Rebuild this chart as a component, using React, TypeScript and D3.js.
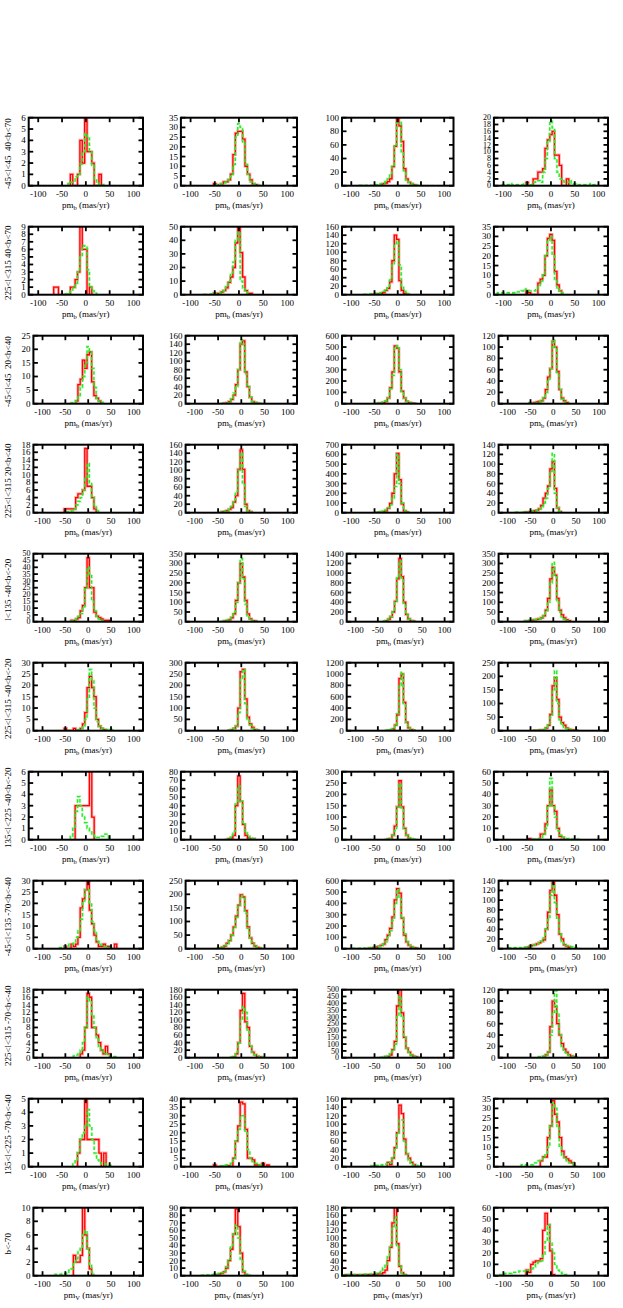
import React from "react";
import * as d3 from "d3";

// one row per sky region, four proper-motion panels per row
const rowLabels = [
  "-45<l<45  40<b<70",
  "225<l<315 40<b<70",
  "-45<l<45  20<b<40",
  "225<l<315 20<b<40",
  "l<135 -40<b<-20",
  "225<l<315 -40<b<-20",
  "135<l<225 -40<b<-20",
  "-45<l<135 -70<b<-40",
  "225<l<315 -70<b<-40",
  "135<l<225 -70<b<-40",
  "b<-70",
];
const xSub = ["b", "b", "b", "b", "b", "b", "b", "b", "b", "b", "V"];
const xTicks = [-100, -50, 0, 50, 100];

const yMax = [
  [6, 35, 100, 20],
  [9, 50, 160, 35],
  [25, 160, 600, 120],
  [18, 160, 700, 140],
  [50, 350, 1400, 350],
  [30, 300, 1200, 250],
  [6, 80, 300, 60],
  [30, 250, 600, 140],
  [18, 180, 500, 120],
  [5, 40, 160, 35],
  [10, 90, 180, 60],
];
const yStep = [
  [1, 5, 20, 2],
  [1, 10, 20, 5],
  [5, 20, 100, 20],
  [2, 20, 100, 20],
  [5, 50, 200, 50],
  [5, 50, 200, 50],
  [1, 10, 50, 10],
  [5, 50, 100, 20],
  [2, 20, 50, 20],
  [1, 5, 20, 5],
  [2, 10, 20, 10],
];

// [first bin centre, counts in 5 mas/yr bins]
type Hist = [number, number[]];

const redHist: Hist[][] = [
  [
    [-30, [1, 0, 0, 1, 4, 2, 6, 3, 3, 2, 0, 0, 1]],
    [-50, [1, 0.5, 0, 1, 2, 2, 3, 6, 16, 27, 28, 28, 24, 10, 6, 3, 1, 0.5]],
    [-35, [1, 3, 4, 6, 10, 28, 58, 105, 88, 65, 25, 10, 5, 3, 1]],
    [-50, [1, 0, 0, 2, 2, 4, 4, 5, 11, 13.5, 15, 16, 9, 9, 6, 0, 0, 2]],
  ],
  [
    [-65, [1, 1, 0, 0, 0, 0, 0, 1, 1, 2, 3, 9.5, 6, 6, 0, 1]],
    [-50, [1, 1, 1, 2, 3, 5, 9, 13, 20, 38, 50, 31, 13, 3, 1, 1]],
    [-50, [1, 1, 2, 3, 5, 10, 15, 30, 80, 140, 130, 33, 10, 3, 1]],
    [-50, [2, 1, 0, 0, 0, 6, 8, 10, 20, 29, 31, 28, 12, 5, 2]],
  ],
  [
    [-25, [1, 7, 9, 16, 13, 18, 19, 8, 3, 2, 1]],
    [-35, [1, 2, 5, 10, 20, 45, 80, 140, 148, 75, 40, 15, 5, 2, 1]],
    [-40, [3, 5, 10, 20, 50, 140, 280, 510, 490, 280, 110, 50, 20, 10, 5, 2]],
    [-50, [1, 0, 2, 3, 4, 5, 10, 25, 47, 62, 110, 100, 57, 25, 10, 5, 2]],
  ],
  [
    [-50, [1, 1, 1, 1, 1, 4, 5, 5, 6, 17, 7, 7, 4, 1]],
    [-40, [2, 3, 5, 8, 12, 25, 40, 102, 148, 102, 20, 5, 2]],
    [-40, [3, 6, 10, 20, 45, 95, 200, 400, 610, 340, 90, 20, 5]],
    [-60, [1, 1, 2, 3, 4, 5, 8, 15, 30, 40, 55, 90, 105, 50, 10, 2]],
  ],
  [
    [-35, [1, 1, 2, 3, 8, 12, 25, 47, 25, 25, 7, 4, 3, 2, 1, 1, 1]],
    [-35, [3, 5, 10, 20, 40, 110, 200, 300, 230, 110, 40, 15, 5, 3]],
    [-30, [20, 50, 100, 200, 420, 880, 1300, 930, 400, 150, 60, 20, 10]],
    [-60, [2, 3, 5, 8, 10, 12, 15, 20, 30, 60, 120, 220, 280, 240, 120, 60, 35, 20, 10, 5]],
  ],
  [
    [-50, [1, 0, 0, 0, 1, 0, 0, 1, 3, 8, 19, 24, 19, 15, 5, 2, 1, 0.5]],
    [-25, [1, 3, 10, 20, 100, 260, 270, 140, 60, 30, 15, 5, 2]],
    [-25, [3, 10, 30, 100, 280, 920, 1000, 500, 150, 50, 20, 5]],
    [-40, [1, 0, 2, 0, 3, 10, 20, 60, 165, 195, 115, 50, 30, 20, 10, 5, 3, 2, 1]],
  ],
  [
    [-20, [3, 3, 3, 3, 3, 3, 7, 2]],
    [-20, [1, 2, 5, 40, 75, 45, 18, 5, 2, 1, 1]],
    [-20, [2, 5, 20, 60, 145, 260, 145, 50, 20, 5]],
    [-45, [1, 0, 0, 0, 0, 5, 5, 14, 30, 44, 30, 25, 10, 3, 2]],
  ],
  [
    [-50, [1, 0, 0, 2, 1, 2, 5, 18, 22, 26, 31, 17, 11, 6, 3, 1, 1, 2, 1, 1, 0, 0, 2]],
    [-45, [2, 5, 10, 20, 30, 50, 80, 120, 160, 198, 190, 140, 80, 40, 20, 10, 5, 2]],
    [-60, [3, 5, 10, 15, 20, 30, 40, 80, 120, 180, 280, 430, 530, 490, 270, 120, 60, 30, 15, 8, 4]],
    [-60, [2, 3, 5, 7, 8, 10, 12, 15, 18, 40, 75, 120, 136, 110, 70, 30, 20, 8, 5, 3]],
  ],
  [
    [-15, [1, 2, 8, 17, 16, 8, 8, 6, 4, 2, 1, 3, 1]],
    [-15, [2, 10, 40, 125, 170, 95, 80, 30, 15, 8, 3, 2]],
    [-25, [5, 10, 20, 60, 120, 380, 520, 330, 150, 70, 40, 20, 10, 5]],
    [-20, [2, 5, 10, 55, 100, 90, 60, 40, 25, 15, 10, 5, 3, 2]],
  ],
  [
    [-15, [1, 2, 2, 5.5, 2, 2, 2, 2, 2, 1, 0, 1]],
    [-50, [1, 0, 0, 0, 0, 0, 0.5, 0, 5, 15, 24, 38, 37, 22, 5, 5, 4, 1, 1, 0, 2, 0, 1]],
    [-20, [10, 5, 20, 45, 80, 145, 125, 65, 30, 20, 10, 5]],
    [-20, [3, 5, 5, 15, 21, 34, 27, 23, 15, 8, 5, 4, 3, 2]],
  ],
  [
    [-30, [3, 2, 2, 3, 10.5, 6, 4, 1]],
    [-45, [1, 2, 3, 5, 10, 20, 35, 55, 88, 65, 30, 5, 1]],
    [-110, [2, 2, 2, 2, 2, 2, 2, 2, 2, 2, 3, 3, 3, 4, 5, 5, 8, 15, 40, 75, 140, 185, 85, 25, 8, 2]],
    [-50, [5, 3, 10, 12, 13, 13, 15, 40, 55, 45, 22, 1]],
  ],
];

const greenHist: Hist[][] = [
  [
    [-35, [0.2, 0.3, 0.3, 0.8, 1, 1.9, 3, 4.6, 4.2, 3, 1.8, 0.6, 0.2, 0.1, 0.1]],
    [-45, [0.5, 0.5, 1, 1.5, 2, 3, 5, 11, 25, 32, 30, 22, 11, 6, 2, 1, 0.5, 0.3]],
    [-80, [0.5, 0.3, 0.3, 0.3, 0.5, 0.5, 1, 1.5, 2, 3, 4, 6, 10, 18, 30, 60, 92, 93, 50, 22, 8, 5, 3, 2, 1, 0.5]],
    [-100, [0.3, 0.3, 0.3, 0.6, 0.3, 0.3, 0.3, 0.3, 0.3, 0.6, 0.5, 0.5, 0.3, 1, 1.5, 1.5, 1, 4, 8, 13, 19, 17, 8, 4, 2, 1.5, 1, 1, 1.5, 0.8, 0.5, 0.3, 0.3, 0.3, 0.3, 0.3, 0.3, 0.6, 0.3]],
  ],
  [
    [-40, [0.1, 0.3, 0.5, 1, 1.5, 3, 5, 6.5, 6.3, 3.3, 1, 0.5, 0.2]],
    [-70, [0.2, 0.2, 0.3, 0.5, 1, 1, 1, 2, 3, 6, 10, 16, 24, 40, 46, 10, 5, 2, 1]],
    [-70, [1, 1, 1.5, 2, 2, 3, 4, 5, 8, 12, 20, 35, 70, 120, 125, 70, 20, 8, 2, 1]],
    [-110, [1, 1, 1, 1, 1, 1, 1, 1, 1.5, 1.5, 2, 3, 2.5, 2, 2, 2, 3, 4, 7, 10, 20, 28, 30, 20, 8, 3, 2, 1]],
  ],
  [
    [-35, [0.3, 0.5, 1, 3, 6, 10, 15, 21, 19, 13, 6, 2, 1, 0.5, 0.2]],
    [-40, [1, 1, 2, 5, 12, 25, 40, 80, 150, 140, 70, 40, 15, 5, 3, 2, 1]],
    [-45, [3, 5, 8, 15, 25, 50, 130, 250, 490, 510, 300, 110, 50, 20, 10, 5, 3]],
    [-50, [1, 1, 1, 2, 3, 5, 10, 20, 40, 62, 112, 100, 55, 25, 8, 3, 1]],
  ],
  [
    [-45, [0.2, 0.3, 0.5, 1, 2, 3, 4, 6, 9, 13, 8, 4, 2, 0.5]],
    [-45, [1, 2, 3, 5, 8, 15, 30, 50, 100, 140, 70, 15, 5, 2]],
    [-45, [3, 5, 10, 20, 30, 50, 80, 150, 270, 600, 300, 100, 20, 5]],
    [-80, [1, 0.5, 0.5, 1, 1, 1.5, 2, 3, 3, 5, 8, 12, 20, 30, 50, 85, 122, 40, 10, 3]],
  ],
  [
    [-35, [0.5, 1, 2, 4, 6, 11, 25, 40, 35, 15, 8, 4, 2, 1, 0.5]],
    [-40, [2, 4, 8, 15, 30, 50, 100, 200, 325, 220, 90, 30, 10, 5, 2]],
    [-35, [15, 30, 60, 110, 200, 400, 900, 1250, 900, 380, 140, 50, 20, 8]],
    [-60, [5, 6, 8, 8, 10, 12, 15, 20, 30, 50, 100, 200, 305, 230, 100, 50, 25, 12, 5, 2]],
  ],
  [
    [-20, [0.5, 1, 2, 5, 14, 27, 22, 10, 4, 2, 1, 0.5, 0.5, 0.3, 0.5, 0.5]],
    [-25, [2, 5, 10, 20, 80, 230, 270, 120, 50, 25, 10, 5, 2]],
    [-30, [5, 10, 20, 50, 100, 300, 800, 1030, 480, 150, 50, 20, 8]],
    [-40, [1, 1, 2, 3, 5, 8, 20, 50, 150, 220, 100, 40, 20, 12, 8, 5, 3, 2, 1]],
  ],
  [
    [-30, [0.3, 1, 2.5, 3.8, 3, 2, 1.5, 1, 0.8, 0.5, 0.3, 0.2, 0.2, 0.3, 0.5, 0.5]],
    [-25, [0.5, 1, 3, 10, 42, 63, 45, 20, 8, 4, 2, 1]],
    [-25, [1, 3, 5, 20, 40, 145, 245, 140, 50, 20, 8, 5, 2]],
    [-35, [0.5, 1, 1, 2, 4, 10, 30, 54, 30, 20, 8, 4, 2, 1, 1, 0.5, 0.5, 0.3, 0.3, 0.5]],
  ],
  [
    [-60, [0.5, 0.5, 1, 1, 2, 2, 3, 5, 8, 13, 21, 26, 26, 20, 12, 8, 4, 2, 1.5, 1, 1, 0.5]],
    [-50, [1, 3, 6, 12, 20, 30, 50, 80, 115, 160, 195, 185, 130, 75, 40, 18, 8, 4, 2]],
    [-95, [3, 3, 3, 3, 4, 4, 5, 6, 8, 10, 15, 20, 30, 40, 60, 100, 160, 250, 400, 520, 440, 270, 130, 60, 30, 15, 8, 4]],
    [-95, [2, 2, 2, 2, 2, 2, 2, 3, 4, 5, 7, 8, 10, 12, 15, 22, 40, 60, 110, 132, 95, 60, 30, 15, 10, 6, 5, 4, 3, 2, 2]],
  ],
  [
    [-30, [0.5, 0.7, 1, 2, 4, 8, 16, 15, 11, 8, 5, 3, 2, 1.5, 1, 1, 0.5, 0.3, 0.3]],
    [-20, [2, 5, 15, 40, 100, 135, 120, 70, 30, 15, 8, 5, 3, 2]],
    [-35, [3, 5, 10, 15, 30, 50, 100, 300, 450, 300, 150, 70, 40, 20, 10, 5, 3, 2]],
    [-30, [2, 2, 3, 5, 8, 40, 80, 118, 80, 40, 20, 10, 6, 4, 3, 2, 1]],
  ],
  [
    [-25, [0.2, 0.5, 1, 2, 2.5, 3, 4.2, 3, 2, 1, 0.5, 0.3, 0.2, 0.2, 0.1, 0.1]],
    [-35, [0.5, 1, 1, 1, 2, 5, 15, 22, 30, 30, 20, 10, 5, 3, 2, 1, 1]],
    [-55, [2, 2, 3, 3, 4, 5, 6, 8, 10, 20, 40, 80, 110, 110, 60, 30, 15, 8, 4, 3, 2, 2]],
    [-60, [1, 1, 1, 1, 1, 2, 2, 3, 3, 5, 7, 10, 21, 33, 30, 20, 10, 6, 4, 3, 2, 2, 1]],
  ],
  [
    [-70, [0.2, 0.2, 0.2, 0.3, 0.3, 0.5, 0.8, 1, 2, 2.5, 3.5, 4, 6, 6.6, 4, 1.5, 0.5]],
    [-75, [0.5, 1, 1, 1, 1.5, 2, 2, 3, 4, 6, 12, 22, 40, 55, 67, 50, 22, 6, 2, 1]],
    [-115, [2, 2, 3, 3, 3, 3, 3, 3, 3, 4, 4, 4, 5, 5, 6, 8, 15, 20, 30, 50, 80, 130, 155, 80, 25, 8, 3]],
    [-105, [1, 1, 2, 2, 2, 3, 3, 3, 4, 4, 4, 5, 5, 6, 8, 10, 12, 13, 18, 30, 45, 30, 20, 10, 5, 3, 2, 1]],
  ],
];

const W = 623;
const H = 1308;
const TOP0 = 117.7;
const ROW_GAP = 109;
const PLOT_H = 68;
const COL_RIGHT = [143, 297, 453.5, 608];
const COL_BASE = [24, 171.5, 327.9, 484.5];
const CHAR_W = 4.7;
const BIN = 5;
const TICK = 4.5;
const FONT = "'Liberation Serif', 'Times New Roman', serif";

const histPoints = ([start, counts]: Hist): [number, number][] => {
  const pts: [number, number][] = [[start - BIN / 2, 0]];
  counts.forEach((v, i) => pts.push([start + i * BIN - BIN / 2, v]));
  pts.push([start + counts.length * BIN - BIN / 2, 0]);
  return pts;
};

const Panel = ({ r, c }: { r: number; c: number }) => {
  const top = TOP0 + r * ROW_GAP;
  const bottom = top + PLOT_H;
  const ymax = yMax[r][c];
  const step = yStep[r][c];
  const left = COL_BASE[c] + CHAR_W * String(ymax).length;
  const right = COL_RIGHT[c];

  const x = d3.scaleLinear().domain([-120, 120]).range([left, right]);
  const y = d3.scaleLinear().domain([0, ymax]).range([bottom, top]);
  const yTicks = d3.range(0, ymax + step / 2, step);
  // crowded axes (10 labels in 68px) get a slightly smaller face
  const yFont = PLOT_H / (yTicks.length - 1) < 7.5 ? 8 : 9;
  const line = d3
    .line<[number, number]>()
    .x((d) => x(d[0]))
    .y((d) => y(d[1]))
    .curve(d3.curveStepAfter);

  const redPath = line(histPoints(redHist[r][c])) || "";
  const greenPath = line(histPoints(greenHist[r][c])) || "";
  const clipId = `clip-${r}-${c}`;

  return (
    <g>
      <clipPath id={clipId}>
        <rect x={left} y={top} width={right - left} height={PLOT_H} />
      </clipPath>
      <g clipPath={`url(#${clipId})`} fill="none">
        <path d={redPath} stroke="#ff0000" strokeOpacity={0.3} strokeWidth={3} />
        <path d={redPath} stroke="#ff0000" strokeWidth={1.3} />
        <path d={greenPath} stroke="#22ee22" strokeOpacity={0.3} strokeWidth={2.6} strokeDasharray="3.5,2" />
        <path d={greenPath} stroke="#22ee22" strokeWidth={1.3} strokeDasharray="3.5,2" />
      </g>

      {xTicks.map((t) => (
        <g key={`x${t}`} stroke="#000" strokeWidth={1.8}>
          <line x1={x(t)} x2={x(t)} y1={bottom} y2={bottom - TICK} />
          <line x1={x(t)} x2={x(t)} y1={top} y2={top + TICK} />
        </g>
      ))}
      {yTicks.map((t) => (
        <g key={`y${t}`} stroke="#000" strokeWidth={1.8}>
          <line x1={left} x2={left + TICK} y1={y(t)} y2={y(t)} />
          <line x1={right} x2={right - TICK} y1={y(t)} y2={y(t)} />
        </g>
      ))}
      <rect x={left} y={top} width={right - left} height={PLOT_H} fill="none" stroke="#000" strokeWidth={2} />

      {xTicks.map((t) => (
        <text key={`xl${t}`} x={x(t)} y={bottom + 11} textAnchor="middle">
          {t}
        </text>
      ))}
      {yTicks.map((t) => (
        <text key={`yl${t}`} x={left - 3} y={y(t)} dy="0.33em" textAnchor="end" fontSize={yFont}>
          {t}
        </text>
      ))}
      <text x={(left + right) / 2} y={bottom + 22} textAnchor="middle">
        pm
        <tspan fontSize={6.5} dy={2}>
          {xSub[r]}
        </tspan>
        <tspan dy={-2}> (mas/yr)</tspan>
      </text>
      {c === 0 && (
        <text
          transform={`translate(8, ${top + 36}) rotate(-90)`}
          textAnchor="middle"
          dominantBaseline="central"
          style={{ whiteSpace: "pre" }}
        >
          {rowLabels[r]}
        </text>
      )}
    </g>
  );
};

export default function App() {
  return (
    <div style={{ position: "absolute", left: 0, top: 0, width: W, height: H, background: "#fff" }}>
      <svg width={W} height={H} style={{ display: "block" }} fontFamily={FONT} fontSize={9} fill="#000">
        <rect width={W} height={H} fill="#fff" />
        {rowLabels.map((_, r) => [0, 1, 2, 3].map((c) => <Panel key={`${r}-${c}`} r={r} c={c} />))}
      </svg>
    </div>
  );
}
